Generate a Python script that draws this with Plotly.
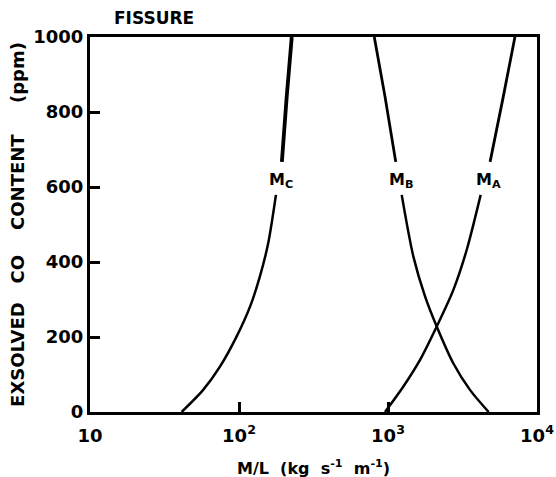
import math
import plotly.graph_objects as go

# Mass flux per unit fissure length (kg s^-1 m^-1) vs exsolved CO content (ppm).
# Each curve is split at its label: a lower branch and an upper branch.
mc_ppm_lo = [0, 59, 121, 201, 281, 361, 450, 579]
mc_ml_lo = [41.2, 57.5, 74.5, 96.3, 118.6, 138, 157, 177]
mc_ppm_hi = [667, 841, 1000]
mc_ml_hi = [194, 209, 226]

mb_ppm_lo = [0, 59, 130, 228, 309, 415, 579]
mb_ml_lo = [4740, 3548, 2742, 2123, 1770, 1479, 1236]
mb_ppm_hi = [667, 841, 1000]
mb_ml_hi = [1127, 955, 809]

ma_ppm_lo = [0, 68, 139, 228, 325, 432, 579]
ma_ml_lo = [955, 1268, 1641, 2123, 2742, 3373, 4188]
ma_ppm_hi = [667, 841, 1000]
ma_ml_hi = [4842, 5940, 7110]

labels = ["M<sub>C</sub>", "M<sub>B</sub>", "M<sub>A</sub>"]
label_ml = [190, 1215, 4700]
label_ppm = 618

x_tickvals = [10, 100, 1000, 10000]
x_ticktext = ["<b>10</b>", "<b>10<sup>2</sup></b>", "<b>10<sup>3</sup></b>", "<b>10<sup>4</sup></b>"]
y_tickvals = [0, 200, 400, 600, 800, 1000]
y_ticktext = [f"<b>{v}</b>" for v in y_tickvals]

FONT = "DejaVu Sans"
NB = "\u00a0"
fig = go.Figure()

segments = [
    (mc_ml_lo, mc_ppm_lo, 2.5), (mc_ml_hi, mc_ppm_hi, 3.8),
    (mb_ml_lo, mb_ppm_lo, 2.5), (mb_ml_hi, mb_ppm_hi, 2.8),
    (ma_ml_lo, ma_ppm_lo, 2.5), (ma_ml_hi, ma_ppm_hi, 2.8),
]
for xs, ys, w in segments:
    fig.add_trace(go.Scatter(x=xs, y=ys, mode="lines",
                             line=dict(color="black", width=w, shape="spline", smoothing=0.8),
                             showlegend=False, hoverinfo="skip"))

for txt, xv in zip(labels, label_ml):
    fig.add_annotation(x=math.log10(xv), y=label_ppm, text=f"<b>{txt}</b>", showarrow=False,
                       xref="x", yref="y", font=dict(family=FONT, size=16, color="black"))

fig.add_annotation(x=0.05, y=1.0, xref="paper", yref="paper", yshift=7, yanchor="bottom", xanchor="left",
                   text="<b>FISSURE</b>", showarrow=False, font=dict(family=FONT, size=17, color="black"))

# x-axis title placed below the tick labels
fig.add_annotation(x=0.5, y=0, xref="paper", yref="paper", yshift=-55, yanchor="middle", xanchor="center",
                   text=f"<b>M/L{NB}{NB}(kg{NB}{NB}s<sup>-1</sup>{NB}{NB}m<sup>-1</sup>)</b>", showarrow=False,
                   font=dict(family=FONT, size=16, color="black"))

fig.update_xaxes(type="log", range=[1, 4], tickvals=x_tickvals, ticktext=x_ticktext,
                 ticks="inside", ticklen=10, tickwidth=3, tickcolor="black",
                 showline=True, linewidth=3, linecolor="black", mirror=True,
                 showgrid=False, zeroline=False, ticklabelstandoff=5, automargin=False,
                 tickfont=dict(family=FONT, size=18, color="black"))
fig.update_yaxes(range=[0, 1000], tickvals=y_tickvals, ticktext=y_ticktext,
                 ticks="inside", ticklen=10, tickwidth=3, tickcolor="black",
                 showline=True, linewidth=3, linecolor="black", mirror=True,
                 showgrid=False, zeroline=False, automargin=False,
                 tickfont=dict(family=FONT, size=18, color="black"),
                 title=dict(text=f"<b>EXSOLVED{NB*3}CO{NB*4}CONTENT{NB*5}(ppm)</b>",
                            font=dict(family=FONT, size=18, color="black"), standoff=4))

fig.update_layout(width=556, height=477, margin=dict(l=90, r=19, t=37, b=65),
                  paper_bgcolor="white", plot_bgcolor="white")

fig.write_html("out.html")
